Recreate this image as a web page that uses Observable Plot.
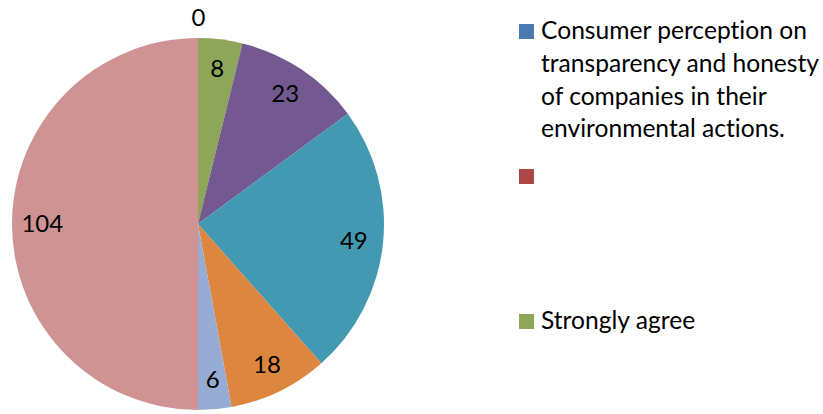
<!DOCTYPE html>
<html>
<head>
<meta charset="utf-8">
<script src="https://cdn.jsdelivr.net/npm/d3@7"></script>
<script src="https://cdn.jsdelivr.net/npm/@observablehq/plot@0.6"></script>
<style>
  html, body { margin: 0; padding: 0; background: #fff; }
  #wrap { position: relative; width: 823px; height: 414px; overflow: hidden; font-family: Lato, "Open Sans", sans-serif; font-variant-ligatures: none; font-feature-settings: "liga" 0, "clig" 0; }
  #chart { position: absolute; left: 0; top: 0; }
  .leg { position: absolute; left: 519px; }
  .sw { position: absolute; left: 0; width: 15px; height: 15px; }
  .lt { position: absolute; left: 22px; white-space: nowrap; font-size: 24.6px; line-height: 32.8px; color: #000; }
</style>
</head>
<body>
<div id="wrap"><div id="chart"></div></div>
<script>
// ---- data ----
const sliceNames = ["Consumer perception on transparency and honesty of companies in their environmental actions.", "", "Strongly agree", "Agree", "Neutral", "Disagree", "Strongly disagree", "Other"];
const sliceValues = [0, null, 8, 23, 49, 18, 6, 104];
const sliceColors = ["#4a7ab0", "#ac4746", "#8ea65a", "#73598f", "#4399b1", "#dd8640", "#96acd3", "#d09393"];
const legendLines = [
  ["Consumer perception on", "transparency and honesty", "of companies in their", "environmental actions."],
  [""],
  ["Strongly agree"]
];
const legendColors = ["#4a7ab0", "#ac4746", "#8ea65a"];

// ---- pie geometry through d3.pie ----
const pie = d3.pie().sort(null).value(d => d.value ?? 0);
const arcs = pie(sliceNames.map((n, i) => ({name: n, value: sliceValues[i], i})));
const labels = arcs.filter(a => a.data.value !== null).map(a => {
  const mid = (a.startAngle + a.endAngle) / 2;
  const r = a.data.value === 0 ? 1.107 : 0.84;
  return {x: r * Math.sin(mid), y: r * Math.cos(mid), text: String(a.data.value)};
});

const W = 500, H = 414;
const wedges = (index, scales) => {
  const cx = scales.x(0), cy = scales.y(0);
  const R = scales.x(1) - scales.x(0);
  const arc = d3.arc().innerRadius(0).outerRadius(R);
  const g = d3.create("svg:g").attr("transform", `translate(${cx},${cy})`);
  g.selectAll("path").data(arcs).join("path")
    .attr("d", arc)
    .attr("fill", d => scales.color(d.data.name));
  return g.node();
};

const plot = Plot.plot({
  width: W, height: H,
  margin: 0,
  x: {domain: [-1.0645, 1.6237], axis: null},
  y: {domain: [-1.0215, 1.2043], axis: null},
  color: {domain: sliceNames, range: sliceColors},
  style: {fontFamily: "Lato, 'Open Sans', sans-serif", background: "transparent"},
  marks: [
    wedges,
    Plot.text(labels, {x: "x", y: "y", text: "text", fontSize: 24, fill: "#000"})
  ]
});
document.getElementById("chart").appendChild(plot);

// ---- legend ----
const wrap = document.getElementById("wrap");
const legTops = [24, 169, 314];
legendLines.forEach((lines, i) => {
  const leg = document.createElement("div");
  leg.className = "leg";
  leg.style.top = legTops[i] + "px";
  const sw = document.createElement("div");
  sw.className = "sw";
  sw.style.top = "0px";
  sw.style.background = legendColors[i];
  leg.appendChild(sw);
  const t = document.createElement("div");
  t.className = "lt";
  t.style.top = "-10px";
  t.innerHTML = lines.map(l => l.replace(/&/g, "&amp;").replace(/</g, "&lt;")).join("<br>");
  leg.appendChild(t);
  wrap.appendChild(leg);
});
</script>
</body>
</html>
